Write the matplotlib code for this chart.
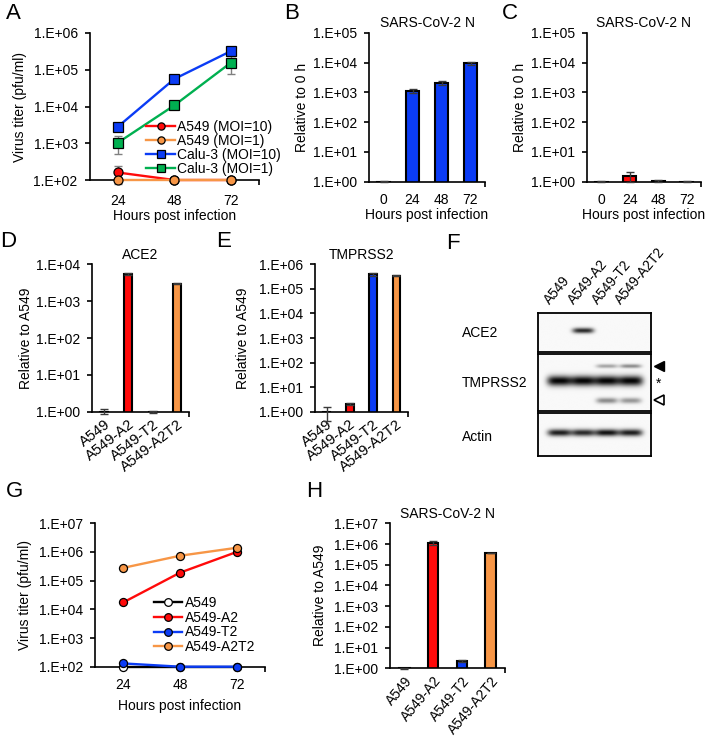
import matplotlib
matplotlib.use('Agg')
import matplotlib.pyplot as plt
import numpy as np

plt.rcParams['font.family'] = ['Liberation Sans', 'DejaVu Sans']
plt.rcParams['font.size'] = 10

# ---------------- data ----------------
hpi3 = ['24', '48', '72']
hpi4 = ['0', '24', '48', '72']
cells = ['A549', 'A549-A2', 'A549-T2', 'A549-A2T2']

# Panel A: virus titer (pfu/ml)
a_labels = ['A549 (MOI=10)', 'A549 (MOI=1)', 'Calu-3 (MOI=10)', 'Calu-3 (MOI=1)']
a_a549_moi10 = [160, 100, 100]
a_a549_moi10_err = [80, 0, 0]
a_a549_moi1 = [100, 100, 100]
a_a549_moi1_err = [0, 0, 0]
a_calu_moi10 = [2800, 56000, 320000]
a_calu_moi10_err = [500, 8000, 40000]
a_calu_moi1 = [1030, 10700, 155000]
a_calu_moi1_err = [520, 1500, 77000]

# Panel B / C: SARS-CoV-2 N relative to 0 h
b_vals = [1.0, 1150, 2100, 9500]
b_err = [0.02, 200, 300, 1200]
c_vals = [1.0, 1.6, 1.05, 1.0]
c_err = [0.03, 0.6, 0.05, 0.02]

# Panel D / E: ACE2 / TMPRSS2 relative to A549
d_vals = [1.0, 5400, 1.0, 3000]
d_err = [0.15, 300, 0.05, 50]
e_vals = [1.0, 2.0, 400000, 350000]
e_err = [0.6, 0.2, 50000, 10000]

# Panel F: western blot band intensities per lane
f_ace2 = [0.0, 0.85, 0.0, 0.0]
f_tmprss2_upper = [0.0, 0.0, 0.35, 0.45]
f_tmprss2_mid = [1.0, 1.0, 1.0, 1.0]
f_tmprss2_lower = [0.0, 0.0, 0.45, 0.40]
f_actin = [0.9, 0.85, 0.95, 0.9]

# Panel G: virus titer
g_a549 = [100, 100, 100]
g_a2 = [17500, 190000, 1000000]
g_t2 = [130, 100, 100]
g_a2t2 = [280000, 740000, 1400000]

# Panel H: SARS-CoV-2 N relative to A549
h_vals = [1.0, 1150000, 2.3, 360000]
h_err = [0.05, 250000, 0.3, 10000]

RED = '#ff0a0a'
ORANGE = '#f79646'
BLUE = '#0b3cf5'
GREEN = '#00b050'

W, H = 711, 739
fig = plt.figure(figsize=(W / 100, H / 100), dpi=100)


def ax_px(l, t, r, b):
    return fig.add_axes([l / W, 1 - b / H, (r - l) / W, (b - t) / H])


def sci(e):
    return f"1.E+{e:02d}"


def style(ax, e0, e1, n, xpad=8, endtick=True):
    ax.set_yscale('log')
    ax.set_ylim(10 ** e0, 10 ** e1)
    ax.set_yticks([10 ** e for e in range(e0, e1 + 1)])
    ax.set_yticklabels([sci(e) for e in range(e0, e1 + 1)])
    ax.yaxis.set_minor_locator(matplotlib.ticker.NullLocator())
    ax.set_xlim(-0.5, n - 0.5)
    for s in ['top', 'right']:
        ax.spines[s].set_visible(False)
    for s in ['left', 'bottom']:
        ax.spines[s].set_linewidth(1.2)
    ax.tick_params(axis='y', length=3.5, width=1.2, pad=5, labelsize=10)
    ax.tick_params(axis='x', length=0, pad=xpad, labelsize=10)
    if endtick:
        ax.set_xticks([n - 0.5], minor=True)
        ax.tick_params(axis='x', which='minor', length=3.5, width=1.2)


def ylab(text, xc, top, bottom):
    fig.text(xc / W, 1 - (top + bottom) / 2 / H, text, rotation=90,
             ha='center', va='center', fontsize=10)


def letter(ch, x, y):
    fig.text(x / W, 1 - y / H, ch, ha='left', va='top', fontsize=16)


# ---------------- Panel A ----------------
axA = ax_px(89.5, 33, 259, 180)
x3 = np.arange(len(hpi3))
ms = 6.5
series_a = [
    (a_a549_moi10, a_a549_moi10_err, RED, 'o'),
    (a_a549_moi1, a_a549_moi1_err, ORANGE, 'o'),
    (a_calu_moi10, a_calu_moi10_err, BLUE, 's'),
    (a_calu_moi1, a_calu_moi1_err, GREEN, 's'),
]
handles = []
for (vals, err, col, mk), lab in zip(series_a, a_labels):
    axA.errorbar(x3, vals, yerr=err, fmt='none', ecolor='#808080',
                 elinewidth=1, capsize=3, zorder=2, clip_on=False)
    h, = axA.plot(x3, vals, color=col, lw=1.7, marker=mk, ms=ms,
                  mfc=col, mec='black', mew=0.9, label=lab, zorder=3,
                  clip_on=False)
    handles.append(h)
style(axA, 2, 6, 3, xpad=10)
axA.set_xticks(x3)
axA.set_xticklabels(hpi3)
axA.set_xlabel('Hours post infection', fontsize=10, labelpad=1)
axA.legend(handles=handles, loc='upper left',
           bbox_to_anchor=(146 / W, 1 - 120 / H), bbox_transform=fig.transFigure,
           frameon=False, fontsize=10, handlelength=2.1, handletextpad=0.15,
           labelspacing=0.0, borderpad=0, borderaxespad=0, markerscale=0.8)
ylab('Virus titer (pfu/ml)', 20, 33, 180)
letter('A', 6, 3)


def bars(ax, vals, err, colors, width):
    x = np.arange(len(vals))
    ax.bar(x, vals, width=width, color=colors, edgecolor='black',
           linewidth=1.5, zorder=2)
    ax.errorbar(x, vals, yerr=err, fmt='none', ecolor='#3a3a3a',
                elinewidth=1, capsize=3, zorder=3, clip_on=False)
    return x


# ---------------- Panel B ----------------
axB = ax_px(369, 33, 485, 181.7)
xb = bars(axB, b_vals, b_err, [BLUE] * 4, 0.45)
style(axB, 0, 5, 4)
axB.set_xticks(xb)
axB.set_xticklabels(hpi4)
axB.set_xlabel('Hours post infection', fontsize=10, labelpad=1)
axB.set_title('SARS-CoV-2 N', fontsize=10, pad=4)
ylab('Relative to 0 h', 301.7, 33, 181.7)
letter('B', 284, 3)

# ---------------- Panel C ----------------
axC = ax_px(587, 33, 701, 181.7)
xc = bars(axC, c_vals, c_err, [RED] * 4, 0.45)
style(axC, 0, 5, 4)
axC.set_xticks(xc)
axC.set_xticklabels(hpi4)
axC.set_xlabel('Hours post infection', fontsize=10, labelpad=1)
axC.set_title('SARS-CoV-2 N', fontsize=10, pad=4)
ylab('Relative to 0 h', 520, 33, 181.7)
letter('C', 502, 3)

# ---------------- Panel D ----------------
axD = ax_px(92, 264.3, 189, 411.7)
xd = bars(axD, d_vals, d_err, ['black', RED, 'black', ORANGE], 0.32)
style(axD, 0, 4, 4)
axD.set_xticks(xd)
axD.set_xticklabels(cells, rotation=38, ha='right', va='top',
                    rotation_mode='anchor', fontsize=10.6)
axD.tick_params(axis='x', pad=4)
axD.set_title('ACE2', fontsize=10, pad=4)
ylab('Relative to A549', 26, 264.3, 411.7)
letter('D', 0, 231)

# ---------------- Panel E ----------------
axE = ax_px(315, 264.3, 408, 411.7)
xe = bars(axE, e_vals, e_err, ['black', RED, BLUE, ORANGE], 0.32)
style(axE, 0, 6, 4)
axE.set_xticks(xe)
axE.set_xticklabels(cells, rotation=38, ha='right', va='top',
                    rotation_mode='anchor', fontsize=10.6)
axE.tick_params(axis='x', pad=4)
axE.set_title('TMPRSS2', fontsize=10, pad=4)
ylab('Relative to A549', 243, 264.3, 411.7)
letter('E', 216, 231)

# ---------------- Panel F (western blot) ----------------
XMIN, XMAX = -0.9, 3.85


def blot(ax, bands):
    xs = np.linspace(XMIN, XMAX, 300)
    ys = np.linspace(0, 1, 120)
    X, Y = np.meshgrid(xs, ys)
    img = np.zeros_like(X)
    for yc, sig, hw, intens in bands:
        for lane, v in enumerate(intens):
            img += v * np.exp(-(np.abs(X - lane) / hw) ** 4) * \
                np.exp(-((Y - yc) / sig) ** 2)
    img = 0.975 - 0.96 * np.clip(img, 0, 1)
    ax.imshow(img, extent=(XMIN, XMAX, 1, 0), cmap='gray', vmin=0, vmax=1,
              aspect='auto', interpolation='bilinear')
    ax.set_xlim(XMIN, XMAX)
    ax.set_ylim(1, 0)
    ax.set_xticks([])
    ax.set_yticks([])
    for s in ax.spines.values():
        s.set_linewidth(1.3)


axF1 = ax_px(538, 313, 651, 352)
blot(axF1, [(0.45, 0.07, 0.45, f_ace2)])
axF2 = ax_px(538, 354, 651, 411)
blot(axF2, [(0.21, 0.035, 0.45, f_tmprss2_upper),
            (0.47, 0.09, 0.52, f_tmprss2_mid),
            (0.82, 0.05, 0.45, f_tmprss2_lower)])
axF3 = ax_px(538, 413, 651, 456)
blot(axF3, [(0.47, 0.08, 0.5, f_actin)])

for i, c in enumerate(cells):
    axF1.text(i - 0.3, 1 + 6 / 39, c, transform=axF1.get_xaxis_transform(),
              rotation=50, ha='left', va='bottom', rotation_mode='anchor',
              fontsize=9.8)
fig.text(462 / W, 1 - 333 / H, 'ACE2', ha='left', va='center', fontsize=10)
fig.text(462 / W, 1 - 383 / H, 'TMPRSS2', ha='left', va='center', fontsize=10)
fig.text(462 / W, 1 - 437 / H, 'Actin', ha='left', va='center', fontsize=10)
axF2.plot([1.07], [0.79], marker='<', ms=7, color='black', mec='black',
          transform=axF2.transAxes, clip_on=False)
axF2.text(1.07, 0.47, '*', transform=axF2.transAxes, ha='center', va='center',
          fontsize=10)
axF2.plot([1.07], [0.19], marker='<', ms=7, mfc='white', mec='black', mew=1.2,
          transform=axF2.transAxes, clip_on=False)
letter('F', 446, 233)

# ---------------- Panel G ----------------
axG = ax_px(95, 523.3, 265, 666.7)
g_labels = ['A549', 'A549-A2', 'A549-T2', 'A549-A2T2']
g_series = [(g_a549, 'black', 'white'), (g_a2, RED, RED),
            (g_t2, BLUE, BLUE), (g_a2t2, ORANGE, ORANGE)]
gh = []
for (vals, col, fc), lab in zip(g_series, g_labels):
    h, = axG.plot(x3, vals, color=col, lw=1.7, marker='o', ms=5.8, mfc=fc,
                  mec='black', mew=0.9, label=lab, clip_on=False, zorder=3)
    gh.append(h)
style(axG, 2, 7, 3)
axG.set_xticks(x3)
axG.set_xticklabels(hpi3)
axG.set_xlabel('Hours post infection', fontsize=10, labelpad=5)
axG.legend(handles=gh, loc='upper left',
           bbox_to_anchor=(154 / W, 1 - 596 / H), bbox_transform=fig.transFigure,
           frameon=False, fontsize=10, handlelength=2.0, handletextpad=0.2,
           labelspacing=0.05, borderpad=0, borderaxespad=0, markerscale=0.95)
ylab('Virus titer (pfu/ml)', 25, 523.3, 666.7)
letter('G', 6, 481)

# ---------------- Panel H ----------------
axH = ax_px(390, 523.3, 505, 668.3)
xh = bars(axH, h_vals, h_err, ['black', RED, BLUE, ORANGE], 0.36)
style(axH, 0, 7, 4)
axH.set_xticks(xh)
axH.set_xticklabels(cells, rotation=50, ha='right', va='top',
                    rotation_mode='anchor')
axH.tick_params(axis='x', pad=4)
axH.set_title('SARS-CoV-2 N', fontsize=10, pad=4)
ylab('Relative to A549', 320, 523.3, 668.3)
letter('H', 306, 481)

fig.savefig('out.png', dpi=100)
